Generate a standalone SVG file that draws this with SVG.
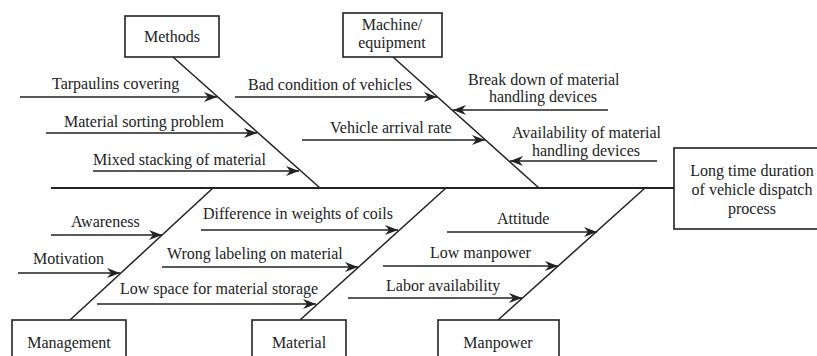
<svg xmlns="http://www.w3.org/2000/svg" width="817" height="356" viewBox="0 0 817 356">
  <style>
    .bg { fill: #ffffff; }
    .box { fill: #ffffff; stroke: #222; stroke-width: 1.6; }
    .bone { stroke: #222; stroke-width: 1.5; fill: none; }
    .spine { stroke: #222; stroke-width: 2; fill: none; }
    .cause { stroke: #222; stroke-width: 1.6; fill: none; marker-end: url(#head); }
    text { font-family: "Liberation Serif", "Times New Roman", serif; font-size: 16px; fill: #222; }
    .c { text-anchor: middle; }
  </style>
  <defs>
    <marker id="head" viewBox="0 0 13 10" markerWidth="13" markerHeight="10" refX="13" refY="5" orient="auto" markerUnits="userSpaceOnUse">
      <path d="M0,0 L13,5 L0,10 L4,5 z" fill="#222"/>
    </marker>
  </defs>
  <rect class="bg" x="0" y="0" width="817" height="356"/>

  <!-- spine and category bones -->
  <g id="connectors">
    <line class="spine" x1="51" y1="188" x2="674" y2="188"/>
    <line class="bone" x1="173" y1="57" x2="320" y2="188"/>
    <line class="bone" x1="393" y1="57" x2="539" y2="188"/>
    <line class="bone" x1="213" y1="188" x2="70" y2="320"/>
    <line class="bone" x1="446" y1="188" x2="300" y2="320"/>
    <line class="bone" x1="645" y1="188" x2="498" y2="320"/>

    <!-- Methods causes -->
    <line class="cause" x1="20" y1="97" x2="217" y2="97"/>
    <line class="cause" x1="46" y1="133" x2="257" y2="133"/>
    <line class="cause" x1="93" y1="171" x2="299" y2="171"/>
    <!-- Machine/equipment causes -->
    <line class="cause" x1="235" y1="97" x2="437" y2="97"/>
    <line class="cause" x1="302" y1="140" x2="485" y2="140"/>
    <line class="cause" x1="608" y1="110" x2="453" y2="110"/>
    <line class="cause" x1="657" y1="161" x2="510" y2="161"/>
    <!-- Management causes -->
    <line class="cause" x1="51" y1="235" x2="162" y2="235"/>
    <line class="cause" x1="18" y1="273" x2="120" y2="273"/>
    <!-- Material causes -->
    <line class="cause" x1="201" y1="230" x2="398" y2="230"/>
    <line class="cause" x1="162" y1="267" x2="358" y2="267"/>
    <line class="cause" x1="97" y1="304" x2="316" y2="304"/>
    <!-- Manpower causes -->
    <line class="cause" x1="447" y1="232" x2="597" y2="232"/>
    <line class="cause" x1="383" y1="266" x2="558" y2="266"/>
    <line class="cause" x1="348" y1="298" x2="522" y2="298"/>
  </g>

  <!-- cause labels -->
  <g id="labels">
    <text x="52" y="89">Tarpaulins covering</text>
    <text x="64" y="127">Material sorting problem</text>
    <text x="93" y="165">Mixed stacking of material</text>
    <text x="248" y="90">Bad condition of vehicles</text>
    <text x="330" y="133">Vehicle arrival rate</text>
    <text x="468" y="85">Break down of material</text>
    <text x="489" y="102">handling devices</text>
    <text x="512" y="138">Availability of material</text>
    <text x="532" y="156">handling devices</text>
    <text x="71" y="227">Awareness</text>
    <text x="33" y="264">Motivation</text>
    <text x="203" y="219">Difference in weights of coils</text>
    <text x="167" y="259">Wrong labeling on material</text>
    <text x="120" y="294">Low space for material storage</text>
    <text x="497" y="224">Attitude</text>
    <text x="430" y="258">Low manpower</text>
    <text x="386" y="291">Labor availability</text>
  </g>

  <g id="methods">
    <rect class="box" x="125" y="16" width="94" height="41"/>
    <text class="c" x="172" y="42">Methods</text>
  </g>
  <g id="machine">
    <rect class="box" x="343" y="13" width="99" height="44"/>
    <text class="c" x="392" y="30">Machine/</text>
    <text class="c" x="392" y="48">equipment</text>
  </g>
  <g id="effect">
    <rect class="box" x="674" y="148" width="150" height="81"/>
    <text class="c" x="752" y="176">Long time duration</text>
    <text class="c" x="752" y="195">of vehicle dispatch</text>
    <text class="c" x="752" y="214">process</text>
  </g>
  <g id="management">
    <rect class="box" x="12" y="320" width="114" height="50"/>
    <text class="c" x="69" y="348">Management</text>
  </g>
  <g id="material">
    <rect class="box" x="252" y="320" width="94" height="50"/>
    <text class="c" x="299" y="348">Material</text>
  </g>
  <g id="manpower">
    <rect class="box" x="438" y="320" width="121" height="50"/>
    <text class="c" x="498" y="348">Manpower</text>
  </g>
</svg>
